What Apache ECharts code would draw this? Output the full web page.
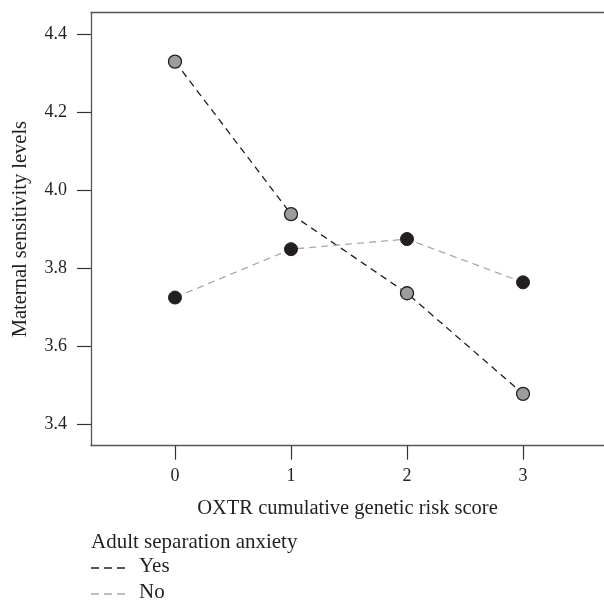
<!DOCTYPE html>
<html><head><meta charset="utf-8">
<script src="https://cdn.jsdelivr.net/npm/echarts@6/dist/echarts.min.js"></script>
<style>html,body{margin:0;padding:0;background:#fff}#c{width:604px;height:603px}</style>
</head><body><div id="c"></div>
<script>
const categories = [0, 1, 2, 3];
const yesValues = [4.329, 3.938, 3.735, 3.477];
const noValues = [3.724, 3.848, 3.874, 3.763];
const yTicks = [3.4, 3.6, 3.8, 4.0, 4.2, 4.4];
const seriesNames = ['Yes', 'No'];
const legendTitle = 'Adult separation anxiety';
const xTitle = 'OXTR cumulative genetic risk score';
const yTitle = 'Maternal sensitivity levels';

const FONT = 'Liberation Serif';
const TXT = '#231f20';
const AXIS = '#555';
const X_MIN = -0.724, X_MAX = 3.698;
const chart = echarts.init(document.getElementById('c'), null, {renderer: 'canvas'});

const legendItems = [
  {name: seriesNames[0], color: '#231f20', y: 568},
  {name: seriesNames[1], color: '#a7a9ac', y: 594}
];
const graphic = [{
  type: 'text', left: 91, top: 543 - 11,
  style: {text: legendTitle, font: '21px "' + FONT + '"', fill: TXT}
}];
legendItems.forEach(it => {
  graphic.push({type: 'line', shape: {x1: 91, y1: it.y, x2: 126, y2: it.y},
    style: {stroke: it.color, lineWidth: 1.3, lineDash: [8, 5]}});
  graphic.push({type: 'text', left: 139, top: it.y - 12,
    style: {text: it.name, font: '21px "' + FONT + '"', fill: TXT}});
});

chart.setOption({
  animation: false,
  backgroundColor: '#fff',
  grid: {left: 91, top: 12.5, right: 0, height: 433.2},
  xAxis: [{
    type: 'value', min: X_MIN, max: X_MAX,
    name: xTitle, nameLocation: 'middle', nameGap: 52,
    nameTextStyle: {fontFamily: FONT, fontSize: 20.5, color: TXT},
    splitLine: {show: false},
    axisLine: {show: true, onZero: false, lineStyle: {color: AXIS, width: 1.3}},
    axisTick: {show: true, customValues: categories, length: 14, lineStyle: {color: '#333', width: 1.2}},
    axisLabel: {customValues: categories, margin: 22, fontFamily: FONT, fontSize: 18, color: TXT}
  }, {
    type: 'value', min: X_MIN, max: X_MAX, position: 'top',
    splitLine: {show: false},
    axisLine: {show: true, onZero: false, lineStyle: {color: AXIS, width: 1.3}},
    axisTick: {show: false}, axisLabel: {show: false}
  }],
  yAxis: {
    type: 'value', min: 3.344, max: 4.455,
    name: yTitle, nameLocation: 'middle', nameGap: 60, nameRotate: 90,
    nameTextStyle: {fontFamily: FONT, fontSize: 20.5, color: TXT},
    splitLine: {show: false},
    axisLine: {show: true, onZero: false, lineStyle: {color: AXIS, width: 1.3}},
    axisTick: {show: true, customValues: yTicks, length: 14, lineStyle: {color: '#333', width: 1.2}},
    axisLabel: {customValues: yTicks, margin: 24, fontFamily: FONT, fontSize: 18, color: TXT,
      formatter: v => Number(v).toFixed(1)}
  },
  series: [
    {
      name: seriesNames[0], type: 'line',
      data: categories.map((c, i) => [c, yesValues[i]]),
      symbol: 'circle', symbolSize: 13,
      itemStyle: {color: '#9d9d9f', borderColor: '#231f20', borderWidth: 1.3},
      lineStyle: {color: '#231f20', width: 1.3, type: [7, 5]},
      emphasis: {disabled: true}
    },
    {
      name: seriesNames[1], type: 'line',
      data: categories.map((c, i) => [c, noValues[i]]),
      symbol: 'circle', symbolSize: 13,
      itemStyle: {color: '#231f20', borderColor: '#231f20', borderWidth: 1},
      lineStyle: {color: '#a7a9ac', width: 1.3, type: [7, 5]},
      emphasis: {disabled: true}
    }
  ],
  graphic: graphic
});
</script></body></html>
